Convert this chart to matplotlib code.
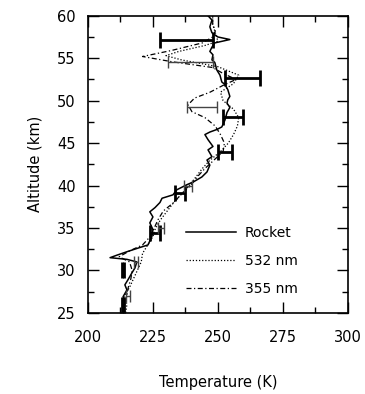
import numpy as np
import matplotlib
matplotlib.use("Agg")
import matplotlib.pyplot as plt
from matplotlib.ticker import MultipleLocator

# rocket profile (solid)
rocket_alt = [25.0, 26.2, 26.9, 27.7, 28.3, 28.9, 29.7, 30.3, 31.0, 31.3, 31.5, 31.8,
              32.2, 32.7, 33.0, 34.0, 34.8, 35.6, 36.3, 36.9, 37.4, 38.0, 38.5, 38.9,
              39.5, 40.1, 40.4, 41.0, 41.6, 42.4, 43.0, 43.4, 44.2, 44.6, 45.4, 46.0,
              46.3, 46.6, 46.9, 47.7, 48.6, 49.2, 49.7, 50.1, 50.5, 51.3, 51.9, 52.2,
              53.0, 53.6, 54.5, 54.8, 55.4, 55.8, 56.3, 56.8, 57.2, 57.5, 58.0, 58.7,
              59.5, 60.0]
rocket_T = [213.5, 214.2, 213.5, 215.0, 214.2, 215.4, 216.9, 218.1, 218.8, 215.0, 208.5, 211.2,
            215.0, 220.0, 223.1, 224.6, 225.0, 223.8, 225.0, 223.8, 225.8, 227.7, 228.5, 232.7,
            234.2, 238.1, 240.4, 243.8, 245.8, 246.9, 245.8, 247.7, 246.2, 248.1, 246.2, 245.0,
            246.9, 249.6, 251.5, 252.7, 253.5, 254.6, 253.5, 253.8, 254.6, 253.8, 252.7, 251.5,
            250.8, 249.6, 248.8, 247.7, 248.1, 246.9, 247.7, 248.8, 254.6, 250.0, 247.7, 246.9,
            247.7, 246.2]

# lidar 532 nm (dotted)
l532_alt = [25, 26, 27, 28, 29, 30, 31, 32, 33, 34, 35, 36, 37, 38, 39, 40, 41, 42, 43,
            44, 45, 46, 47, 48, 49, 50, 51, 52, 53, 54, 54.8, 55.3, 55.8, 56.5, 57, 58, 59, 60]
l532_T = [214.5, 215, 214, 216, 217.5, 219, 220.5, 221, 223, 225, 226, 228, 230.5, 233,
          236, 239, 241.5, 244, 247, 251, 254, 256, 257.5, 258, 256, 252, 251, 256, 258,
          250, 236, 230, 235, 245, 250, 249, 248, 248]

# lidar 355 nm (dash-dot)
l355_alt = [25, 26, 27, 28, 29, 30, 31, 31.6, 32.3, 33, 34, 35, 36, 37, 38, 39, 40, 41,
            42, 43, 44, 45, 46, 47, 48, 48.7, 49.5, 50.3, 51, 51.8, 52.5, 53.2, 53.9,
            54.6, 55.2, 55.9, 56.8, 57.5, 58.2, 59, 60]
l355_T = [213.5, 214, 215, 215.5, 216.5, 217, 216, 212, 216, 221, 224, 225.5, 227, 229,
          233, 236, 239.5, 242, 245, 248.5, 252, 252.5, 251, 249, 245, 240, 238.5, 241,
          247, 252, 257, 252, 248, 232, 221, 232, 244, 248, 249, 248, 248]

# error bars: thick set and thin set
eb_thick_alt = [57.2, 52.7, 48.1, 44.0, 39.1, 34.4, 30.1, 25.9]
eb_thick_T = [237.9, 259.4, 255.8, 252.7, 235.4, 225.8, 213.5, 213.5]
eb_thick_err = [10.2, 6.7, 3.8, 2.7, 1.9, 1.9, 0.5, 0.5]

eb_thin_alt = [54.5, 49.3, 40.0, 35.0, 31.0, 27.0]
eb_thin_T = [239.5, 243.8, 238.5, 228.0, 218.5, 215.5]
eb_thin_err = [8.6, 5.8, 1.5, 1.2, 0.9, 0.8]

plt.rcParams["font.family"] = "DejaVu Sans"
fig = plt.figure(figsize=(3.65, 3.94), dpi=100)
ax = fig.add_axes([0.241, 0.206, 0.712, 0.754])

ax.plot(rocket_T, rocket_alt, color="black", lw=1.1, label="Rocket")
ax.plot(l532_T, l532_alt, color="black", lw=0.9, ls=(0, (1, 1.5)), label="532 nm")
ax.plot(l355_T, l355_alt, color="black", lw=0.9, ls=(0, (4, 2, 1, 2)), label="355 nm")

ax.errorbar(eb_thick_T, eb_thick_alt, xerr=eb_thick_err, fmt="none", ecolor="black",
            elinewidth=2.0, capsize=5.5, capthick=2.0)
ax.errorbar(eb_thin_T, eb_thin_alt, xerr=eb_thin_err, fmt="none", ecolor="#444444",
            elinewidth=1.0, capsize=4, capthick=1.0)

ax.set_xlim(200, 300)
ax.set_ylim(25, 60)
ax.xaxis.set_major_locator(MultipleLocator(25))
ax.xaxis.set_minor_locator(MultipleLocator(12.5))
ax.yaxis.set_major_locator(MultipleLocator(5))
ax.yaxis.set_minor_locator(MultipleLocator(2.5))
ax.tick_params(which="both", direction="in", top=True, right=True, width=1.0, labelsize=10.5)
ax.tick_params(which="major", length=8)
ax.tick_params(which="minor", length=4)
ax.tick_params(axis="x", pad=12)
ax.tick_params(axis="y", pad=9)
for s in ax.spines.values():
    s.set_linewidth(1.2)

ax.set_xlabel("Temperature (K)", fontsize=10.5, labelpad=22)
ax.set_ylabel("Altitude (km)", fontsize=10.5, labelpad=10)

ax.legend(loc="upper left", bbox_to_anchor=(0.33, 0.335), frameon=False, fontsize=10,
          handlelength=3.6, labelspacing=1.0, handletextpad=0.6)

fig.savefig("out.png", dpi=100)
